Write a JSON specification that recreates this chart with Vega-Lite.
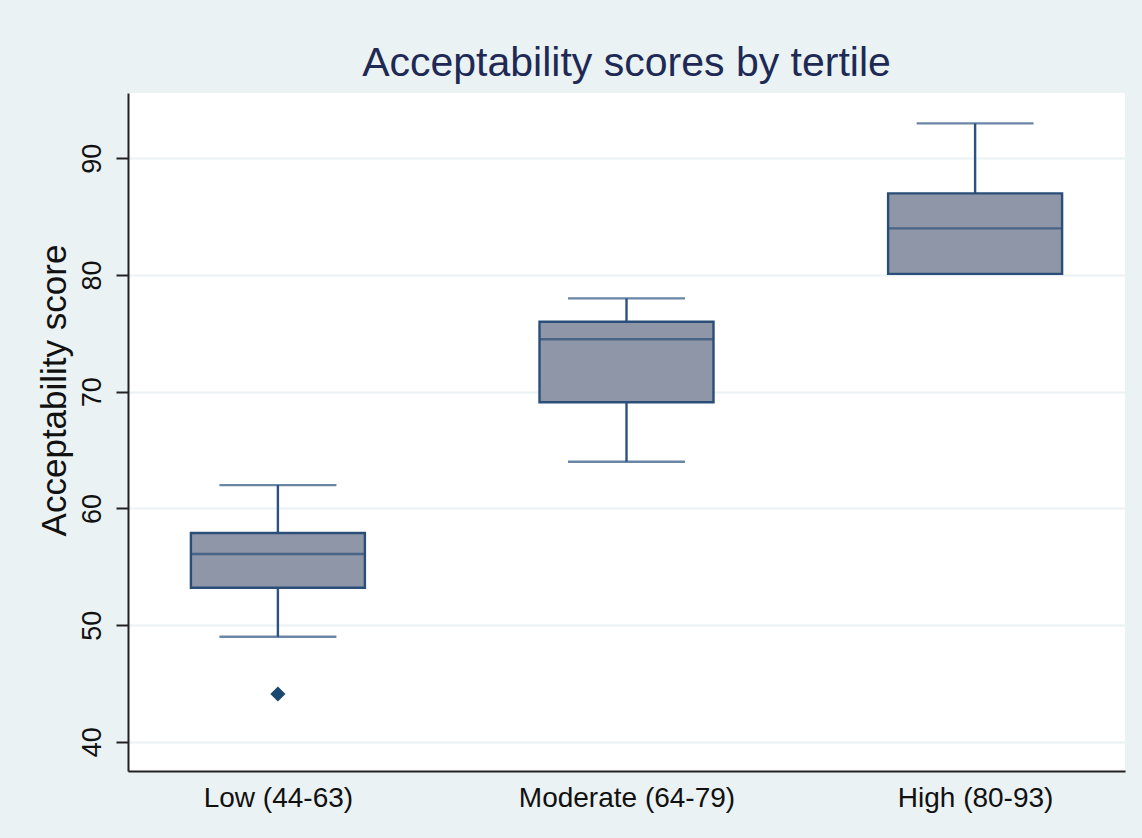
{
  "$schema": "https://vega.github.io/schema/vega-lite/v6.json",
  "autosize": "none",
  "width": 997,
  "height": 678,
  "padding": {"left": 128, "top": 93, "right": 17, "bottom": 67},
  "background": "#EAF2F3",
  "title": {
    "text": "Acceptability scores by tertile",
    "font": "Liberation Sans",
    "fontSize": 41,
    "fontWeight": "normal",
    "color": "#1E2A55",
    "anchor": "middle",
    "offset": 8
  },
  "config": {
    "view": {"stroke": null, "fill": "white"},
    "axis": {
      "labelFont": "Liberation Sans",
      "titleFont": "Liberation Sans",
      "labelColor": "#111111",
      "titleColor": "#111111",
      "domainColor": "#222222",
      "domainWidth": 2,
      "tickColor": "#222222",
      "tickWidth": 2,
      "labelLimit": 400
    }
  },
  "datasets": {
    "boxes": [
      {"tertile": "Low (44-63)", "lower": 49, "q1": 53.2, "median": 56.1, "q3": 57.9, "upper": 62},
      {"tertile": "Moderate (64-79)", "lower": 64, "q1": 69.1, "median": 74.5, "q3": 76, "upper": 78},
      {"tertile": "High (80-93)", "lower": 80.1, "q1": 80.1, "median": 84, "q3": 87, "upper": 93}
    ],
    "outliers": [
      {"tertile": "Low (44-63)", "score": 44.1}
    ]
  },
  "encoding": {
    "x": {
      "field": "tertile",
      "type": "nominal",
      "sort": ["Low (44-63)", "Moderate (64-79)", "High (80-93)"],
      "scale": {"type": "point", "padding": 0.43},
      "axis": {
        "title": null,
        "labelAngle": 0,
        "labelFontSize": 28,
        "labelPadding": 13,
        "ticks": false,
        "grid": false
      }
    }
  },
  "layer": [
    {
      "data": {"name": "boxes"},
      "mark": {"type": "rule", "color": "#2B5280", "strokeWidth": 2.4},
      "encoding": {
        "y": {
          "field": "lower",
          "type": "quantitative",
          "scale": {"domain": [37.5, 95.6], "nice": false, "zero": false},
          "axis": {
            "title": "Acceptability score",
            "titleFontSize": 35,
            "titleFontWeight": "normal",
            "titlePadding": 6,
            "titleY": 297,
            "values": [40, 50, 60, 70, 80, 90],
            "labelFontSize": 27,
            "labelAngle": -90,
            "labelAlign": "center",
            "labelBaseline": "bottom",
            "labelPadding": 10,
            "tickSize": 12,
            "grid": true,
            "gridColor": "#EAF2F3",
            "gridWidth": 2
          }
        },
        "y2": {"field": "upper"}
      }
    },
    {
      "data": {"name": "boxes"},
      "mark": {"type": "tick", "color": "#2B5280", "size": 117, "thickness": 2.4},
      "encoding": {"y": {"field": "lower", "type": "quantitative"}}
    },
    {
      "data": {"name": "boxes"},
      "mark": {"type": "tick", "color": "#2B5280", "size": 117, "thickness": 2.4},
      "encoding": {"y": {"field": "upper", "type": "quantitative"}}
    },
    {
      "data": {"name": "boxes"},
      "mark": {"type": "bar", "size": 174, "fill": "#8F96A8", "stroke": "#2A4E78", "strokeWidth": 2.4},
      "encoding": {
        "y": {"field": "q1", "type": "quantitative"},
        "y2": {"field": "q3"}
      }
    },
    {
      "data": {"name": "boxes"},
      "mark": {"type": "tick", "color": "#2A4E78", "size": 174, "thickness": 2.4},
      "encoding": {"y": {"field": "median", "type": "quantitative"}}
    },
    {
      "data": {"name": "outliers"},
      "mark": {"type": "point", "shape": "diamond", "filled": true, "color": "#1A476F", "size": 230, "opacity": 1},
      "encoding": {"y": {"field": "score", "type": "quantitative"}}
    }
  ]
}
